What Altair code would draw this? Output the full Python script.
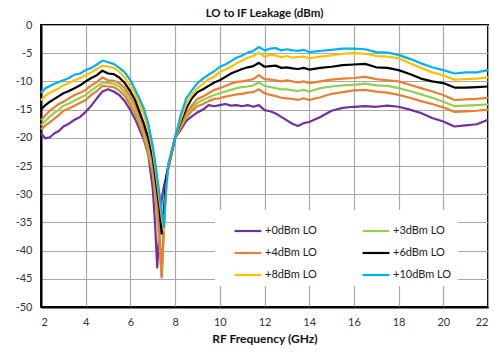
import altair as alt
import pandas as pd

# RF frequency points (GHz); finer steps around the notch near 7.4 GHz
freq = [2.0, 2.2, 2.4, 2.6, 2.8, 3.0,
        3.25, 3.5, 3.75, 4.0, 4.25, 4.5, 4.75, 5.0, 5.25, 5.5, 5.75, 6.0,
        6.2, 6.4, 6.6, 6.8, 7.0,
        7.1, 7.2, 7.3, 7.4, 7.5, 7.6, 7.7, 7.8, 7.9, 8.0,
        8.25, 8.5, 8.75, 9.0, 9.25, 9.5, 9.75, 10.0, 10.25, 10.5, 10.75, 11.0,
        11.25, 11.5, 11.75, 12.0, 12.25, 12.5, 12.75, 13.0, 13.25, 13.5, 13.75, 14.0,
        14.5, 15.0, 15.5, 16.0, 16.5, 17.0, 17.5, 18.0, 18.5, 19.0, 19.5, 20.0,
        20.5, 21.0, 21.5, 22.0]

# LO-to-IF leakage (dBm) per LO drive level
lo_p10 = [-12.0, -11.2, -10.8, -10.4, -10.1, -9.8,
          -9.4, -8.8, -8.6, -8.0, -7.6, -7.0, -6.3, -6.6, -6.9, -7.6, -8.4, -9.8,
          -11.4, -13.0, -14.8, -17.5, -21.5,
          -24.0, -27.0, -30.0, -33.0, -35.8, -29.0, -24.5, -23.0, -21.5, -20.0,
          -16.0, -13.0, -11.6, -10.3, -9.5, -8.8, -8.2, -7.4, -7.0, -6.4, -5.8, -5.4,
          -4.9, -4.6, -3.9, -4.5, -4.2, -4.1, -4.5, -4.3, -4.5, -4.6, -4.4, -4.8,
          -4.6, -4.4, -4.2, -4.2, -4.3, -4.8, -4.9, -5.3, -6.0, -6.8, -7.5, -8.0,
          -8.6, -8.4, -8.4, -8.0]

lo_p8 = [-13.4, -12.5, -12.0, -11.6, -11.2, -10.7,
         -10.3, -9.8, -9.4, -8.9, -8.4, -7.8, -7.2, -7.4, -7.6, -8.3, -9.3, -10.9,
         -12.2, -14.0, -15.8, -18.5, -22.3,
         -25.0, -28.0, -31.0, -34.0, -36.5, -29.5, -24.8, -23.2, -21.6, -20.0,
         -16.8, -14.0, -12.4, -11.2, -10.4, -9.6, -9.2, -8.3, -7.9, -7.4, -6.8, -6.3,
         -5.8, -5.5, -4.9, -5.6, -5.3, -5.4, -5.7, -5.5, -5.8, -5.7, -5.6, -5.9,
         -5.6, -5.4, -5.1, -5.0, -5.1, -5.5, -5.6, -5.9, -6.8, -7.6, -8.4, -8.9,
         -9.7, -9.6, -9.5, -9.3]

lo_p6 = [-15.0, -14.2, -13.6, -13.1, -12.6, -12.1,
         -11.7, -11.2, -10.7, -10.0, -9.4, -8.9, -8.1, -8.6, -8.7, -9.3, -10.3, -11.8,
         -13.2, -15.3, -17.5, -20.0, -23.5,
         -26.5, -29.5, -32.5, -37.0, -33.0, -27.0, -25.0, -23.3, -21.7, -20.0,
         -17.2, -14.8, -13.0, -11.9, -11.4, -10.8, -10.2, -9.8, -9.2, -8.6, -8.2, -7.8,
         -7.5, -7.3, -6.7, -7.4, -7.3, -7.2, -7.6, -7.5, -7.7, -7.8, -7.6, -7.9,
         -7.6, -7.4, -7.1, -7.0, -6.9, -7.5, -7.6, -8.0, -8.7, -9.5, -10.0, -10.3,
         -11.1, -11.1, -11.0, -10.9]

lo_p4 = [-16.9, -16.0, -15.2, -14.6, -14.0, -13.6,
         -13.0, -12.4, -12.0, -11.5, -10.7, -10.1, -9.3, -9.8, -9.9, -10.3, -11.2, -12.7,
         -14.0, -16.0, -18.3, -21.0, -24.5,
         -28.0, -32.0, -36.5, -44.5, -35.0, -27.5, -25.3, -23.5, -21.8, -20.0,
         -17.6, -15.6, -14.3, -13.1, -12.7, -12.1, -11.5, -11.2, -10.8, -10.4, -10.1, -10.0,
         -9.8, -9.6, -8.9, -9.6, -9.7, -9.8, -10.0, -9.8, -10.0, -10.2, -10.0, -10.3,
         -10.0, -9.7, -9.5, -9.4, -9.2, -9.6, -9.8, -10.0, -10.6, -11.2, -11.8, -12.4,
         -13.3, -13.2, -13.1, -12.9]

lo_p3 = [-17.8, -17.0, -16.2, -15.6, -15.0, -14.3,
         -13.9, -13.4, -12.9, -12.4, -11.6, -10.9, -10.2, -10.3, -10.4, -10.9, -11.9, -13.5,
         -14.8, -16.8, -19.0, -22.0, -25.5,
         -29.0, -33.0, -38.0, -44.3, -35.5, -27.5, -25.3, -23.6, -21.8, -20.0,
         -17.9, -16.0, -14.7, -13.8, -13.3, -12.8, -12.4, -12.1, -11.8, -11.5, -11.2, -11.0,
         -10.9, -10.7, -10.2, -10.8, -11.0, -11.2, -11.4, -11.4, -11.6, -11.7, -11.5, -11.8,
         -11.2, -10.9, -10.7, -10.6, -10.4, -10.7, -10.8, -11.2, -11.7, -12.3, -12.9, -13.6,
         -14.4, -14.3, -14.2, -14.1]

lo_p2 = [-18.5, -17.8, -17.2, -16.6, -16.0, -15.2,
         -14.8, -14.3, -13.8, -13.3, -12.4, -11.7, -10.8, -10.9, -11.0, -11.6, -12.6, -14.2,
         -15.6, -17.5, -19.8, -22.8, -26.5,
         -30.0, -34.0, -39.0, -44.8, -36.0, -27.8, -25.5, -23.7, -21.9, -20.0,
         -18.2, -16.4, -15.2, -14.4, -14.0, -13.5, -13.1, -13.0, -12.7, -12.5, -12.3, -12.2,
         -12.0, -11.9, -11.4, -12.1, -12.4, -12.6, -12.9, -13.0, -13.1, -13.3, -13.0, -13.3,
         -12.8, -12.2, -11.9, -11.6, -11.5, -11.8, -12.0, -12.4, -12.9, -13.5, -14.0, -14.6,
         -15.4, -15.3, -15.2, -15.0]

lo_p0 = [-19.2, -20.1, -19.9, -19.2, -18.8, -18.0,
         -17.5, -16.8, -16.3, -15.4, -14.3, -13.0, -11.8, -11.4, -11.8, -12.4, -13.5, -15.1,
         -16.6, -18.4, -20.3, -23.0, -29.0,
         -35.0, -43.0, -36.0, -31.0, -28.5, -27.0, -25.0, -23.5, -21.8, -20.0,
         -18.6, -17.0, -16.2, -15.5, -15.0, -14.2, -14.4, -14.2, -14.0, -14.3, -14.2, -14.4,
         -14.2, -14.5, -14.2, -15.1, -15.3, -15.7, -16.3, -16.9, -17.5, -17.9, -17.4, -17.2,
         -16.3, -15.2, -14.7, -14.5, -14.4, -14.5, -14.3, -14.5, -15.0, -15.6, -16.5, -17.1,
         -18.0, -17.8, -17.6, -16.8]

series_names = ["+0dBm LO", "+2dBm LO", "+3dBm LO", "+4dBm LO",
                "+6dBm LO", "+8dBm LO", "+10dBm LO"]
series_values = [lo_p0, lo_p2, lo_p3, lo_p4, lo_p6, lo_p8, lo_p10]
series_colors = ["#7030A0", "#ED7D31", "#92D050", "#ED7D31",
                 "#000000", "#FFC000", "#00B0F0"]
# legend fills column by column: left column first, then right column
legend_entries = ["+0dBm LO", "+4dBm LO", "+8dBm LO",
                  "+3dBm LO", "+6dBm LO", "+10dBm LO"]

y_ticks = [0, -5, -10, -15, -20, -25, -30, -35, -40, -45, -50]
x_ticks = [2, 4, 6, 8, 10, 12, 14, 16, 18, 20, 22]

rows = []
for order, (name, vals) in enumerate(zip(series_names, series_values)):
    for f, v in zip(freq, vals):
        rows.append({"freq": f, "leak": v, "series": name, "order": order})
df = pd.DataFrame(rows)

FONT = "Lato"

chart = (
    alt.Chart(df)
    .mark_line(strokeWidth=2.2, strokeJoin="round")
    .encode(
        x=alt.X(
            "freq:Q",
            scale=alt.Scale(domain=[2, 22], nice=False, zero=False),
            axis=alt.Axis(
                values=x_ticks, title="RF Frequency (GHz)", grid=True,
                gridColor="#A8A8A8", gridWidth=1.2, ticks=False,
                domainColor="black", domainWidth=2,
                labelFont=FONT, labelFontSize=11, labelColor="#333333",
                labelPadding=9, titleFont=FONT, titleFontSize=12,
                titleFontWeight="bold", titleColor="#111111", titlePadding=6,
            ),
        ),
        y=alt.Y(
            "leak:Q",
            scale=alt.Scale(domain=[-50, 0], nice=False),
            axis=alt.Axis(
                values=y_ticks, title=None, grid=True,
                gridColor="#A8A8A8", gridWidth=1.2, ticks=False,
                domainColor="black", domainWidth=2,
                labelFont=FONT, labelFontSize=11, labelColor="#333333",
                labelPadding=9, labelExpr="'' + datum.value",
            ),
        ),
        color=alt.Color(
            "series:N",
            scale=alt.Scale(domain=series_names, range=series_colors),
            legend=alt.Legend(
                values=legend_entries, title=None, orient="none",
                legendX=174, legendY=185, columns=2, columnPadding=32,
                rowPadding=2, symbolType="stroke", symbolSize=720,
                symbolStrokeWidth=2.2, labelFont=FONT, labelFontSize=11,
                labelColor="#222222", labelOffset=2, fillColor="white",
                padding=6, symbolOffset=12,
            ),
        ),
        detail="series:N",
        order=alt.Order("order:Q"),
    )
    .properties(
        width=447,
        height=282,
        title=alt.TitleParams(
            "LO to IF Leakage (dBm)", font=FONT, fontSize=11.5,
            fontWeight="bold", color="#111111", offset=0,
        ),
        autosize=alt.AutoSizeParams(type="none"),
        padding={"left": 41, "top": 25, "right": 7, "bottom": 45},
    )
    .configure_view(stroke="black", strokeWidth=2)
)

chart.save("out.html", embed_options={"renderer": "svg", "actions": False})
